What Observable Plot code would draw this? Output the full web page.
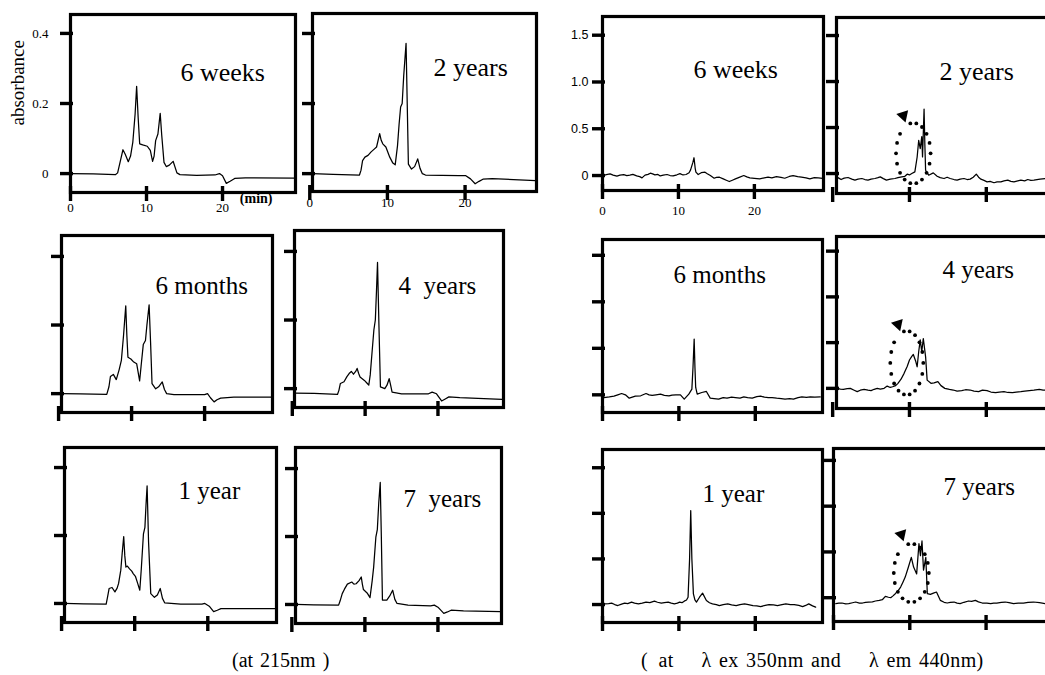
<!DOCTYPE html>
<html>
<head>
<meta charset="utf-8">
<script src="https://cdn.jsdelivr.net/npm/d3@7"></script>
<script src="https://cdn.jsdelivr.net/npm/@observablehq/plot@0.6"></script>
<style>
  html, body { margin: 0; padding: 0; background: #fff; }
  body { width: 1045px; height: 675px; overflow: hidden; position: relative; font-family: "Liberation Serif", serif; color: #000; }
  #root { position: absolute; left: 0; top: 0; width: 1045px; height: 675px; }
  .caption { position: absolute; font-size: 20px; line-height: 20px; white-space: pre; font-family: "Liberation Serif", serif; }
  svg text { font-family: "Liberation Serif", serif; }
  svg text.sans, svg g.sans text { font-family: "Liberation Sans", sans-serif; }
</style>
</head>
<body>
<div id="root"></div>
<div class="caption" id="cap1"></div>
<div class="caption" id="cap2"></div>
<script>
// ---------------- data (time in min, signal) ----------------
const timeTicks = [0, 10, 20];
const timeTickLabels = ["0", "10", "20"];
const absTicks = [0, 0.2, 0.4];
const absTickLabels = ["0", "0.2", "0.4"];
const flTicks = [0, 0.5, 1.0, 1.5];
const flTickLabels = ["0", "0.5", "1.0", "1.5"];
const ageLabels = ["6 weeks", "6 months", "1 year", "2 years", "4  years", "7  years"];
const captionAbs = "(at 215nm )";
const captionFl = "(\u2002at\u2003 \u03BB ex 350nm and\u2003 \u03BB em 440nm)";

// absorbance at 215 nm
const abs6weeks = [[0,0],[3,-0.001],[5.9,-0.003],[6.2,0.002],[6.6,0.04],[6.9,0.068],[7.2,0.055],[7.6,0.034],[7.9,0.05],[8.2,0.09],[8.5,0.17],[8.7,0.249],[8.9,0.16],[9.1,0.085],[9.5,0.082],[10.1,0.078],[10.5,0.066],[10.8,0.035],[11.0,0.05],[11.2,0.094],[11.5,0.113],[11.8,0.172],[12.0,0.11],[12.3,0.032],[12.6,0.02],[13.0,0.024],[13.5,0.035],[14.0,0.002],[14.4,-0.003],[16.6,-0.005],[19.0,-0.004],[19.6,0.0],[20.0,-0.006],[20.5,-0.028],[21.0,-0.022],[21.6,-0.014],[23,-0.012],[29.5,-0.013]];
const abs2years = [[0.35,0],[3,-0.002],[6.4,-0.004],[6.6,0.01],[6.8,0.037],[7.1,0.047],[7.5,0.052],[7.9,0.062],[8.3,0.07],[8.6,0.076],[9.0,0.114],[9.2,0.095],[9.4,0.085],[9.8,0.076],[10.3,0.047],[10.7,0.03],[11.0,0.025],[11.3,0.08],[11.5,0.14],[11.7,0.19],[11.9,0.2],[12.1,0.28],[12.4,0.372],[12.55,0.2],[12.7,0.027],[13.1,0.013],[13.5,0.02],[13.9,0.042],[14.2,0.015],[14.5,0],[14.9,-0.004],[19.2,-0.006],[20.1,-0.006],[20.7,-0.015],[21.3,-0.029],[21.8,-0.022],[22.3,-0.016],[23.5,-0.014],[29.1,-0.02]];
const abs6months = [[0.4,0],[3,-0.001],[6.6,-0.002],[6.9,0.02],[7.1,0.05],[7.5,0.056],[7.9,0.041],[8.3,0.07],[8.6,0.097],[8.9,0.17],[9.2,0.256],[9.35,0.17],[9.5,0.106],[9.9,0.101],[10.3,0.092],[10.7,0.087],[11.1,0.037],[11.3,0.08],[11.6,0.143],[11.9,0.155],[12.1,0.2],[12.4,0.259],[12.6,0.15],[12.8,0.029],[13.3,0.014],[13.7,0.02],[14.2,0.034],[14.5,0.012],[14.8,0],[15.8,-0.003],[20.0,-0.003],[20.4,0.0],[20.8,-0.012],[21.3,-0.024],[21.7,-0.018],[22.2,-0.013],[24,-0.01],[29.2,-0.01]];
const abs4years = [[0.3,-0.013],[3,-0.014],[6.2,-0.017],[6.4,-0.005],[6.6,0.015],[7.1,0.02],[7.5,0.035],[7.8,0.044],[8.1,0.05],[8.4,0.042],[8.7,0.05],[8.9,0.059],[9.1,0.045],[9.3,0.034],[9.9,0.024],[10.3,0.015],[10.5,0.01],[10.7,0.04],[10.9,0.093],[11.2,0.171],[11.4,0.2],[11.55,0.28],[11.7,0.368],[11.9,0.18],[12.1,0.005],[12.7,0.0],[13.0,0.01],[13.3,0.029],[13.5,0.01],[13.7,-0.01],[15,-0.015],[18.7,-0.015],[19.2,-0.01],[19.8,-0.015],[20.5,-0.036],[21.0,-0.03],[21.5,-0.024],[23,-0.026],[28.8,-0.031]];
const abs1year = [[0.4,0],[3,-0.001],[6.1,-0.002],[6.3,0.02],[6.5,0.044],[6.9,0.047],[7.3,0.034],[7.6,0.045],[7.8,0.059],[8.1,0.098],[8.3,0.15],[8.5,0.197],[8.65,0.14],[8.8,0.107],[9.0,0.11],[9.3,0.102],[9.6,0.095],[9.8,0.088],[10.1,0.08],[10.4,0.06],[10.7,0.039],[10.9,0.1],[11.2,0.205],[11.4,0.224],[11.55,0.29],[11.7,0.346],[11.9,0.18],[12.2,0.029],[12.7,0.018],[13.1,0.025],[13.5,0.044],[13.8,0.015],[14.1,0.002],[16.3,-0.002],[19.2,-0.002],[19.6,0.0],[20.2,-0.008],[20.8,-0.024],[21.3,-0.02],[21.8,-0.015],[29.3,-0.015]];
const abs7years = [[0.5,0],[3,-0.001],[6.4,-0.002],[6.6,0.01],[6.9,0.032],[7.2,0.045],[7.6,0.06],[8.2,0.066],[8.5,0.06],[8.8,0.061],[9.2,0.07],[9.5,0.081],[9.65,0.06],[9.8,0.044],[10.3,0.034],[10.7,0.02],[11.0,0.07],[11.2,0.11],[11.5,0.198],[11.7,0.22],[11.9,0.3],[12.1,0.359],[12.25,0.2],[12.4,0.013],[13.0,0.013],[13.4,0.025],[13.8,0.042],[14.1,0.015],[14.4,0.003],[15.9,-0.002],[19.0,-0.004],[19.5,-0.002],[20.0,-0.008],[20.8,-0.026],[21.3,-0.022],[21.8,-0.017],[23.5,-0.019],[28.6,-0.021]];

// fluorescence (ex 350 nm / em 440 nm)
const fl6weeks = [[0.1,0],[0.5,0.01],[1.0,0.018],[1.4,0.005],[1.9,-0.007],[2.3,0.004],[2.8,0.01],[3.2,0.0],[3.6,0.004],[4.0,0.012],[4.5,-0.004],[4.9,-0.012],[5.2,-0.025],[5.6,0.004],[6.0,0.012],[6.3,0.025],[6.6,0.018],[6.9,0.007],[7.3,0.012],[7.6,-0.004],[8.0,0.004],[8.5,0.011],[8.9,0.0],[9.3,-0.004],[9.8,0.008],[10.2,0.021],[10.6,0.006],[11.0,0.011],[11.4,0.03],[11.6,0.06],[11.9,0.14],[12.05,0.19],[12.2,0.08],[12.3,0.036],[12.6,0.011],[13.0,0.03],[13.5,0.036],[13.8,0.02],[14.2,0],[14.7,-0.029],[15.0,-0.02],[15.4,-0.018],[15.9,-0.036],[16.3,-0.05],[16.7,-0.064],[17.1,-0.05],[17.5,-0.036],[18.0,-0.02],[18.6,0],[19.0,-0.015],[19.4,-0.025],[20.0,-0.03],[20.7,-0.036],[21.3,-0.025],[21.8,-0.018],[22.3,-0.025],[22.9,-0.011],[23.5,-0.02],[24,-0.029],[24.6,-0.01],[25.1,0],[25.7,-0.012],[26.2,-0.018],[26.8,-0.025],[27.3,-0.036],[27.9,-0.022],[28.4,-0.025],[29.0,-0.03]];
const fl2years = [[0.5,-0.036],[0.8,-0.05],[1.1,-0.065],[1.5,-0.05],[2.0,-0.043],[2.5,-0.06],[2.9,-0.072],[3.3,-0.06],[3.8,-0.054],[4.2,-0.065],[4.6,-0.072],[5.0,-0.06],[5.5,-0.054],[5.9,-0.045],[6.2,-0.036],[6.6,-0.055],[7.0,-0.072],[7.5,-0.06],[8.1,-0.054],[8.5,-0.045],[9.0,-0.036],[9.4,-0.03],[9.7,-0.007],[10.0,-0.015],[10.3,0],[10.7,0.018],[11.0,0.18],[11.2,0.36],[11.4,0.27],[11.6,0.4],[11.7,0.18],[11.9,0.7],[12.0,0.32],[12.1,0.036],[12.5,-0.018],[13.1,0.007],[13.6,-0.029],[14.0,-0.045],[14.5,-0.054],[14.9,-0.04],[15.3,-0.054],[15.8,-0.065],[16.2,-0.072],[16.6,-0.06],[17.1,-0.054],[17.5,-0.065],[17.9,-0.061],[18.3,-0.04],[18.7,-0.007],[19.0,-0.04],[19.3,-0.061],[19.7,-0.075],[20.1,-0.09],[20.5,-0.085],[21,-0.1],[21.4,-0.09],[21.9,-0.09],[22.3,-0.08],[22.8,-0.072],[23.2,-0.085],[23.6,-0.09],[24.1,-0.08],[24.5,-0.072],[25.0,-0.08],[25.4,-0.065],[25.8,-0.075],[26.2,-0.072],[27.0,-0.06],[27.8,-0.054],[28.4,-0.065],[29,-0.06]];
const fl6months = [[0.2,-0.029],[0.9,-0.022],[1.5,-0.014],[2.0,0.0],[2.5,0.014],[3.0,0.0],[3.5,-0.036],[3.9,-0.025],[4.3,-0.014],[5.0,-0.01],[5.7,0.014],[6.1,0.0],[6.5,-0.007],[7.0,0.0],[7.6,0.007],[8.1,-0.005],[8.7,-0.011],[9.1,-0.004],[9.6,0],[10.2,0],[10.7,-0.047],[11.0,-0.02],[11.3,0.007],[11.7,0.061],[11.85,0.3],[12.0,0.6],[12.1,0.3],[12.2,0.079],[12.4,0.007],[13.0,0.025],[13.6,0.036],[14.1,-0.036],[14.6,-0.04],[15.2,-0.047],[15.8,-0.03],[16.3,-0.036],[16.9,-0.025],[17.4,-0.029],[18.0,-0.035],[18.5,-0.022],[19.0,-0.03],[19.6,-0.036],[20.2,-0.02],[20.7,-0.014],[21.2,-0.025],[21.7,-0.029],[22.2,-0.03],[22.8,-0.036],[23.4,-0.04],[23.9,-0.047],[24.5,-0.04],[25,-0.047],[25.6,-0.03],[26.1,-0.022],[26.7,-0.028],[27.2,-0.022],[27.8,-0.025],[28.5,-0.022]];
const fl4years = [[0.6,0],[1.0,-0.008],[1.4,-0.011],[1.9,-0.004],[2.3,0],[2.8,-0.02],[3.2,-0.036],[3.6,-0.02],[4.1,-0.011],[4.6,-0.02],[5.0,-0.025],[5.4,-0.01],[5.8,0],[6.2,-0.008],[6.7,0],[7.1,0.025],[7.5,0.01],[7.8,0.018],[8.2,0.03],[8.5,0.055],[8.9,0.1],[9.3,0.164],[9.7,0.24],[10.0,0.31],[10.3,0.35],[10.5,0.37],[10.8,0.3],[11.0,0.236],[11.2,0.4],[11.4,0.53],[11.6,0.4],[11.8,0.545],[12.1,0.345],[12.3,0.09],[12.8,0.055],[13.2,0.06],[13.7,0.073],[14.1,0.03],[14.6,0],[15.2,-0.012],[15.7,-0.018],[16.2,-0.03],[16.8,-0.025],[17.3,-0.015],[17.9,-0.018],[18.4,-0.03],[19,-0.036],[19.5,-0.02],[20.1,-0.025],[20.6,-0.04],[21.2,-0.047],[21.7,-0.04],[22.3,-0.036],[22.8,-0.045],[23.4,-0.047],[23.9,-0.04],[24.5,-0.036],[25.0,-0.03],[25.6,-0.025],[26.2,-0.02],[26.9,-0.011],[27.4,-0.02],[28,-0.018],[28.6,-0.012],[29.2,-0.015]];
const fl1year = [[0.3,0.007],[0.8,0.01],[1.2,0.015],[1.6,0.0],[2.0,-0.011],[2.5,0.005],[2.9,0.015],[3.3,0.01],[3.8,0.026],[4.2,0.015],[4.7,0.007],[5.2,0.015],[5.7,0.026],[6.2,0.02],[6.8,0.037],[7.2,0.025],[7.7,0.015],[8.1,0.02],[8.6,0.026],[9.0,0.015],[9.4,0.007],[9.8,0.015],[10.1,0.026],[10.4,0.02],[10.7,0.037],[11.0,0.05],[11.2,0.08],[11.4,0.5],[11.55,1.03],[11.7,0.5],[11.9,0.117],[12.1,0.05],[12.3,0.026],[12.7,0.08],[13.1,0.125],[13.6,0.044],[14.0,0.02],[14.4,0.007],[14.9,0.0],[15.3,-0.011],[15.8,0.0],[16.4,0.007],[16.9,-0.004],[17.5,-0.011],[18.0,0.0],[18.6,0.007],[19.1,0.0],[19.7,-0.011],[20.2,-0.015],[20.7,-0.022],[21.3,-0.01],[21.8,0],[22.4,-0.004],[22.9,-0.011],[23.5,0.0],[24,0.007],[24.6,0.0],[25.1,0],[25.7,-0.01],[26.2,-0.022],[26.6,-0.01],[27,0.007],[27.5,-0.015],[27.9,-0.029]];
const fl7years = [[0.3,-0.065],[0.7,-0.06],[1.1,-0.058],[1.6,-0.068],[2.0,-0.065],[2.5,-0.055],[2.9,-0.047],[3.4,-0.06],[3.8,-0.058],[4.2,-0.05],[4.6,-0.047],[5.1,-0.045],[5.5,-0.036],[6.0,-0.03],[6.4,-0.022],[6.8,0.015],[7.2,0.005],[7.5,0],[7.8,0.02],[8.1,0.044],[8.5,0.08],[8.8,0.116],[9.1,0.17],[9.4,0.225],[9.8,0.33],[10.2,0.44],[10.5,0.335],[10.9,0.26],[11.2,0.59],[11.4,0.46],[11.6,0.62],[11.8,0.3],[12.1,0.44],[12.3,0.044],[12.7,0.036],[13.1,0.05],[13.5,0.062],[14,-0.029],[14.5,-0.05],[14.9,-0.058],[15.3,-0.05],[15.8,-0.047],[16.2,-0.06],[16.6,-0.065],[17.1,-0.05],[17.7,-0.036],[18.1,-0.04],[18.6,-0.029],[19.0,-0.045],[19.5,-0.058],[20.1,-0.06],[20.6,-0.065],[21.0,-0.06],[21.4,-0.058],[22.0,-0.05],[22.5,-0.047],[23.0,-0.055],[23.6,-0.065],[24.2,-0.06],[24.9,-0.058],[25.5,-0.05],[26.2,-0.047],[27.0,-0.055],[27.8,-0.065],[28.4,-0.058],[29,-0.06]];

// dotted ellipse annotations (centre time, centre signal, radii in the same units) + arrow head
const ellipse2years = {t: 10.5, v: 0.22, rt: 2.25, rv: 0.33, arrow: [9.2, 0.63]};
const ellipse4years = {t: 9.65, v: 0.278, rt: 2.15, rv: 0.35, arrow: [8.5, 0.70]};
const ellipse7years = {t: 10.2, v: 0.27, rt: 2.3, rv: 0.32, arrow: [8.9, 0.69]};

// ---------------- layout (frame box in page px: left, top, width, height) ----------------
const serif = "'Liberation Serif', serif";
const sans = "'Liberation Sans', sans-serif";
const panels = [
  {series: abs6weeks, label: ageLabels[0], kind: "abs", frame: [70, 14, 225, 178], x: [0, 29.6], y: [-0.054, 0.454], labelAt: [110, 48], fs: 26, yLabels: true, xLabelDy: 15, absorbance: true, minLabel: true},
  {series: abs2years, label: ageLabels[3], kind: "abs", frame: [312, 13, 224, 178], x: [0.35, 29.2], y: [-0.051, 0.457], labelAt: [121, 44], fs: 26, xLabelDy: 11},
  {series: fl6weeks, label: ageLabels[0], kind: "fl", frame: [602, 16, 221, 174], x: [0, 29.1], y: [-0.16, 1.70], labelAt: [91, 43], fs: 26, yLabels: true, xLabelDy: 20},
  {series: fl2years, label: ageLabels[3], kind: "fl", frame: [836, 17, 222, 176], x: [0.5, 29.4], y: [-0.217, 1.696], labelAt: [103, 44], fs: 26, ellipse: ellipse2years},
  {series: abs6months, label: ageLabels[1], kind: "abs", frame: [61, 235, 211, 177], x: [0.4, 29.3], y: [-0.055, 0.461], labelAt: [94, 41], fs: 25},
  {series: abs4years, label: ageLabels[4], kind: "abs", frame: [294, 230, 209, 177], x: [0.3, 29.0], y: [-0.055, 0.461], labelAt: [104, 46], fs: 25},
  {series: fl6months, label: ageLabels[1], kind: "fl", frame: [602, 239, 220, 173], x: [0, 28.8], y: [-0.19, 1.67], labelAt: [71, 26], fs: 25},
  {series: fl4years, label: ageLabels[4].replace("  ", " "), kind: "fl", frame: [836, 236, 222, 172], x: [0.5, 29.4], y: [-0.22, 1.66], labelAt: [106, 24], fs: 25, ellipse: ellipse4years},
  {series: abs1year, label: ageLabels[2], kind: "abs", frame: [64, 447, 212, 175], x: [0.4, 29.4], y: [-0.056, 0.459], labelAt: [114, 34], fs: 25},
  {series: abs7years, label: ageLabels[5], kind: "abs", frame: [295, 447, 206, 176], x: [0.5, 28.7], y: [-0.056, 0.462], labelAt: [108, 42], fs: 25},
  {series: fl1year, label: ageLabels[2], kind: "fl", frame: [602, 449, 220, 173], x: [0, 28.8], y: [-0.197, 1.70], labelAt: [100, 35], fs: 25},
  {series: fl7years, label: ageLabels[5].replace("  ", " "), kind: "fl", frame: [833, 448, 222, 173], x: [0, 29.1], y: [-0.26, 1.63], labelAt: [110, 29], fs: 25, ellipse: ellipse7years}
];

const root = document.getElementById("root");
const ink = "#000";

function drawPanel(p) {
  const [L, T, W, H] = p.frame;
  const ml = 72, mr = 14, mt = 8, mb = 34;
  const [x0, x1] = p.x, [y0, y1] = p.y;
  const pxX = (x1 - x0) / W, pxY = (y1 - y0) / H;
  const yTicks = p.kind === "abs" ? absTicks : flTicks;
  const yTickLabels = p.kind === "abs" ? absTickLabels : flTickLabels;

  const marks = [
    Plot.line(p.series, {x: d => d[0], y: d => d[1], stroke: ink, strokeWidth: 1.25, strokeLinejoin: "round"}),
    Plot.frame({stroke: ink, strokeWidth: 3.2}),
    Plot.ruleX(timeTicks, {x: d => d, y1: () => y0 - 9 * pxY, y2: () => y0 + 6 * pxY, stroke: ink, strokeWidth: 3.4}),
    Plot.ruleY(yTicks, {y: d => d, x1: () => x0 - 10 * pxX, x2: () => x0 + 3 * pxX, stroke: ink, strokeWidth: 3.4}),
    Plot.text([p.label], {frameAnchor: "top-left", dx: p.labelAt[0], dy: p.labelAt[1], text: d => d, fontSize: p.fs, fontFamily: serif, textAnchor: "start", fill: ink})
  ];

  if (p.yLabels) {
    const isAbs = p.kind === "abs";
    marks.push(Plot.text(yTicks, {y: d => d, frameAnchor: "left", dx: isAbs ? -22 : -14, text: (d, i) => yTickLabels[i], textAnchor: "end", fontSize: isAbs ? 13 : 12.5, fontFamily: isAbs ? serif : sans, fill: ink, className: isAbs ? undefined : "sans"}));
  }
  if (p.xLabelDy !== undefined) {
    marks.push(Plot.text(timeTicks, {x: d => d, y: () => y0, dy: p.xLabelDy, text: (d, i) => timeTickLabels[i], textAnchor: "middle", fontSize: 13, fontFamily: serif, fill: ink}));
  }
  if (p.absorbance) {
    marks.push(Plot.text(["absorbance"], {frameAnchor: "left", dx: -53, dy: 22, rotate: -90, text: d => d, fontSize: 19, fontFamily: serif, fill: ink}));
  }
  if (p.minLabel) {
    marks.push(Plot.text(["(min)"], {frameAnchor: "bottom-right", dx: -23, dy: 10, text: d => d, fontSize: 14, fontWeight: "bold", fontFamily: serif, fill: ink}));
  }
  if (p.ellipse) {
    const e = p.ellipse;
    const angles = d3.range(0, 360, 20).filter(a => a !== 120);
    const pts = angles.map(a => [e.t + e.rt * Math.cos(a * Math.PI / 180), e.v + e.rv * Math.sin(a * Math.PI / 180)]);
    marks.push(Plot.dot(pts, {x: d => d[0], y: d => d[1], r: 1.9, fill: ink, stroke: null}));
    marks.push(Plot.dot([e.arrow], {x: d => d[0], y: d => d[1], symbol: "triangle", r: 4.6, fill: ink, stroke: null, rotate: -78}));
  }

  const svg = Plot.plot({
    width: W + ml + mr,
    height: H + mt + mb,
    marginLeft: ml, marginRight: mr, marginTop: mt, marginBottom: mb,
    x: {domain: p.x, axis: null},
    y: {domain: p.y, axis: null},
    style: {background: "transparent", overflow: "visible", maxWidth: "none", fontFamily: "'Liberation Serif', serif"},
    marks
  });
  svg.style.position = "absolute";
  svg.style.left = (L - ml) + "px";
  svg.style.top = (T - mt) + "px";
  root.appendChild(svg);
}

panels.forEach(drawPanel);

const cap1 = document.getElementById("cap1");
cap1.textContent = captionAbs;
cap1.style.left = "232px";
cap1.style.top = "650px";
cap1.style.wordSpacing = "2px";
const cap2 = document.getElementById("cap2");
cap2.textContent = captionFl;
cap2.style.left = "641px";
cap2.style.top = "650px";
cap2.style.wordSpacing = "2px";
cap2.style.letterSpacing = "0.4px";
</script>
</body>
</html>
